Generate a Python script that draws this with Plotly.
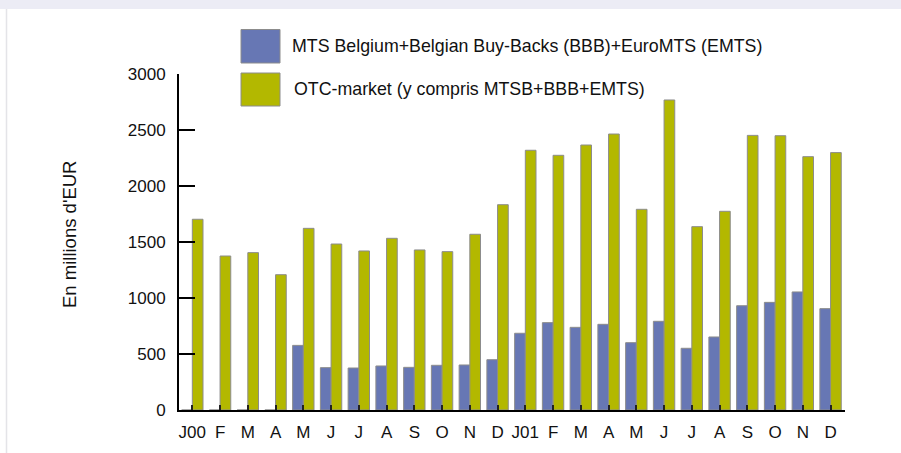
import plotly.graph_objects as go

months = ["J00", "F", "M", "A", "M", "J", "J", "A", "S", "O", "N", "D",
          "J01", "F", "M", "A", "M", "J", "J", "A", "S", "O", "N", "D"]
mts_values = [0, 0, 0, 0, 577, 378, 375, 393, 381, 399, 402, 449,
              685, 780, 738, 765, 601, 792, 551, 652, 931, 961, 1054, 905]
otc_values = [1703, 1375, 1405, 1208, 1622, 1482, 1420, 1533, 1429, 1414, 1569, 1833,
              2319, 2274, 2366, 2464, 1792, 2768, 1637, 1774, 2452, 2449, 2262, 2298]
series_names = ["MTS Belgium+Belgian Buy-Backs (BBB)+EuroMTS (EMTS)",
                "OTC-market (y compris MTSB+BBB+EMTS)"]
y_title = "En millions d'EUR"

BLUE = "#6777b4"
GREEN = "#b3b800"
EDGE = "#8c8c8c"
FONT = "Liberation Sans, Arial, sans-serif"

W, H = 901, 453
ML, MR, MT, MB = 179, 56, 74, 43
PW, PH = W - ML - MR, H - MT - MB


def px(x):
    return (x - ML) / PW


def py(y):
    return (H - MB - y) / PH


xs = list(range(len(months)))

fig = go.Figure()
fig.add_trace(go.Bar(x=xs, y=mts_values, name=series_names[0],
                     marker=dict(color=BLUE, line=dict(color=EDGE, width=1))))
fig.add_trace(go.Bar(x=xs, y=otc_values, name=series_names[1],
                     marker=dict(color=GREEN, line=dict(color=EDGE, width=1))))

shapes = [
    # top lavender band
    dict(type="rect", xref="paper", yref="paper", x0=px(-5), x1=px(W + 5),
         y0=py(9), y1=py(-5), fillcolor="#ececf5", line=dict(width=0), layer="below"),
    # left thin border line
    dict(type="line", xref="paper", yref="paper", x0=px(6.5), x1=px(6.5),
         y0=py(9), y1=py(H + 5), line=dict(color="#e4e4e8", width=1.5)),
    # legend swatches
    dict(type="rect", xref="paper", yref="paper", x0=px(241), x1=px(280),
         y0=py(63), y1=py(29.5), fillcolor=BLUE, line=dict(color=EDGE, width=1)),
    dict(type="rect", xref="paper", yref="paper", x0=px(241), x1=px(280),
         y0=py(106), y1=py(73), fillcolor=GREEN, line=dict(color=EDGE, width=1)),
]

annotations = [
    dict(text=series_names[0], xref="paper", yref="paper", x=px(290), y=py(46),
         xanchor="left", yanchor="middle", showarrow=False,
         font=dict(size=17.8, color="#111111", family=FONT)),
    dict(text=series_names[1], xref="paper", yref="paper", x=px(292), y=py(89),
         xanchor="left", yanchor="middle", showarrow=False,
         font=dict(size=17.8, color="#111111", family=FONT)),
    dict(text=y_title, xref="paper", yref="paper", x=px(69), y=py(235),
         xanchor="center", yanchor="middle", textangle=-90, showarrow=False,
         font=dict(size=18.5, color="#111111", family=FONT)),
]

fig.update_layout(
    width=W, height=H,
    margin=dict(l=ML, r=MR, t=MT, b=MB, pad=0),
    paper_bgcolor="white", plot_bgcolor="white",
    barmode="group", bargap=0.23, bargroupgap=0,
    showlegend=False,
    font=dict(family=FONT, size=17, color="#111111"),
    shapes=shapes, annotations=annotations,
    xaxis=dict(
        range=[-0.48, 23.52], tickmode="array", tickvals=xs, ticktext=months,
        showline=True, linecolor="black", linewidth=2,
        ticks="inside", ticklen=5, tickwidth=1.5, tickcolor="#222222",
        showgrid=False, zeroline=False, ticklabelstandoff=6,
        tickfont=dict(size=17, family=FONT, color="#111111"),
    ),
    yaxis=dict(
        range=[0, 3000], dtick=500, tick0=0,
        showline=True, linecolor="black", linewidth=2,
        ticks="inside", ticklen=16, tickwidth=2, tickcolor="black",
        showgrid=False, zeroline=False, ticklabelstandoff=8,
        tickfont=dict(size=17, family=FONT, color="#111111"),
    ),
)

fig.write_html(
    "out.html",
    config={"displayModeBar": False},
    post_script="document.body.style.margin='0';document.body.style.overflow='hidden';",
)
